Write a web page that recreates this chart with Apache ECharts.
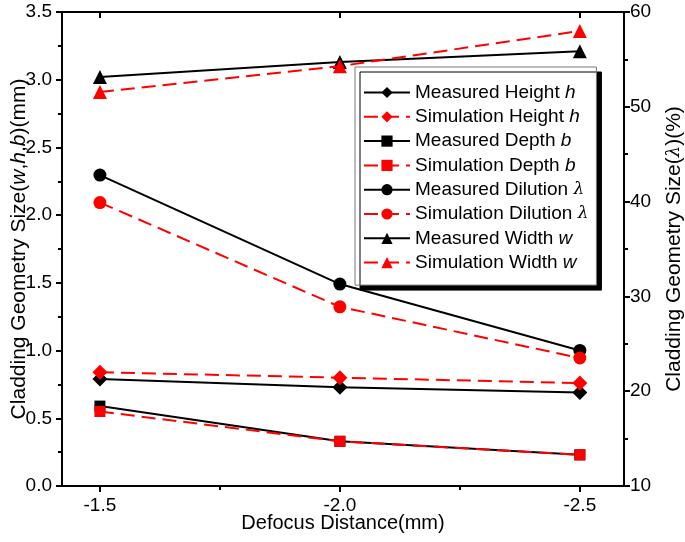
<!DOCTYPE html>
<html><head><meta charset="utf-8">
<script src="https://cdn.jsdelivr.net/npm/echarts@6/dist/echarts.min.js"></script>
<style>html,body{margin:0;padding:0;background:#fff}#c{width:685px;height:542px}</style>
</head><body><div id="c"></div>
<script>
const xVals = [-1.5, -2.0, -2.5];
const xTickLabels = ['-1.5', '-2.0', '-2.5'];
const measuredHeight = [0.79, 0.73, 0.69];
const simulationHeight = [0.84, 0.80, 0.76];
const measuredDepth = [0.59, 0.33, 0.23];
const simulationDepth = [0.55, 0.33, 0.23];
const measuredDilution = [42.8, 31.3, 24.3];
const simulationDilution = [39.9, 28.9, 23.5];
const measuredWidth = [3.02, 3.13, 3.21];
const simulationWidth = [2.91, 3.10, 3.36];
const leftTicks = [0, 3.5, 0.5];
const rightTicks = [10, 60, 10];

const FONT = 'Liberation Sans';
const pairs = arr => xVals.map((x, i) => [x, arr[i]]);
const solid = { color: '#000', width: 2, type: 'solid' };
const dashed = { color: '#ff0000', width: 2, type: [14, 7] };
function mk(name, data, sym, size, meas, yIdx) {
  return {
    name, type: 'line', data: pairs(data), yAxisIndex: yIdx, xAxisIndex: 0,
    symbol: sym, symbolSize: size, showSymbol: true,
    itemStyle: { color: meas ? '#000' : '#ff0000' },
    lineStyle: meas ? solid : dashed, z: meas ? 3 : 4, animation: false
  };
}
const series = [
  mk('Measured Height h', measuredHeight, 'diamond', 15, true, 0),
  mk('Simulation Height h', simulationHeight, 'diamond', 15, false, 0),
  mk('Measured Depth b', measuredDepth, 'rect', 11, true, 0),
  mk('Simulation Depth b', simulationDepth, 'rect', 11, false, 0),
  mk('Measured Dilution λ', measuredDilution, 'circle', 13, true, 1),
  mk('Simulation Dilution λ', simulationDilution, 'circle', 13, false, 1),
  mk('Measured Width w', measuredWidth, 'triangle', 14, true, 0),
  mk('Simulation Width w', simulationWidth, 'triangle', 14, false, 0)
];
const labelStyle = { fontFamily: FONT, fontSize: 19, color: '#000' };
const chart = echarts.init(document.getElementById('c'), null, { renderer: 'canvas' });
chart.setOption({
  animation: false,
  backgroundColor: '#fff',
  grid: { left: 62, right: 61, top: 12, bottom: 56, containLabel: false, outerBoundsMode: 'none' },
  xAxis: [
    { type: 'value', inverse: true, min: -2.592, max: -1.421,
      name: 'Defocus Distance(mm)', nameLocation: 'middle', nameGap: 27, nameMoveOverlap: false,
      nameTextStyle: { fontFamily: FONT, fontSize: 20, color: '#000' },
      axisLine: { onZero: false, lineStyle: { color: '#000', width: 2 } },
      axisTick: { customValues: xVals, length: 6, lineStyle: { color: '#000', width: 2 } },
      axisLabel: { customValues: xVals, formatter: v => xTickLabels[xVals.indexOf(v)] ?? v.toFixed(1), margin: 10, ...labelStyle },
      splitLine: { show: false } },
    { type: 'value', inverse: true, min: -2.592, max: -1.421, position: 'top',
      axisLine: { onZero: false, lineStyle: { color: '#000', width: 2 } },
      axisTick: { customValues: xVals, inside: true, length: 6, lineStyle: { color: '#000', width: 2 } },
      axisLabel: { show: false }, splitLine: { show: false } },
    { type: 'value', inverse: true, min: -2.592, max: -1.421, position: 'bottom',
      axisLine: { show: false },
      axisTick: { customValues: [-1.75, -2.25], length: 4, lineStyle: { color: '#000', width: 2 } },
      axisLabel: { show: false }, splitLine: { show: false } }
  ],
  yAxis: [
    { type: 'value', min: leftTicks[0], max: leftTicks[1], interval: leftTicks[2], position: 'left',
      name: '{n|Cladding Geometry Size(}{i|w}{n|,}{i|h}{n|,}{i|b}{n|)(mm)}',
      nameLocation: 'middle', nameGap: 32, nameRotate: 90, nameMoveOverlap: false,
      nameTextStyle: { rich: { n: { fontFamily: FONT, fontSize: 21, color: '#000' }, i: { fontFamily: FONT, fontSize: 21, fontStyle: 'italic', color: '#000' } } },
      axisLine: { lineStyle: { color: '#000', width: 2 } },
      axisTick: { length: 6, lineStyle: { color: '#000', width: 2 } },
      minorTick: { show: true, splitNumber: 2, length: 4, lineStyle: { color: '#000', width: 2 } },
      axisLabel: { formatter: v => v.toFixed(1), margin: 10, ...labelStyle },
      splitLine: { show: false } },
    { type: 'value', min: rightTicks[0], max: rightTicks[1], interval: rightTicks[2], position: 'right',
      name: '{n|Cladding Geometry Size(}{l|λ}{n|)(%)}',
      nameLocation: 'middle', nameGap: 40, nameRotate: 90, nameMoveOverlap: false,
      nameTextStyle: { rich: { n: { fontFamily: FONT, fontSize: 21, color: '#000' }, l: { fontFamily: 'DejaVu Serif', fontSize: 18, fontStyle: 'italic', color: '#000' } } },
      axisLine: { lineStyle: { color: '#000', width: 2 } },
      axisTick: { length: 6, lineStyle: { color: '#000', width: 2 } },
      minorTick: { show: true, splitNumber: 2, length: 4, lineStyle: { color: '#000', width: 2 } },
      axisLabel: { margin: 6, ...labelStyle },
      splitLine: { show: false } }
  ],
  legend: {
    left: 355, top: 67, orient: 'vertical', itemGap: 5.3, itemWidth: 46, itemHeight: 14,
    padding: [16, 8, 13, 8],
    backgroundColor: '#fff', borderColor: '#777', borderWidth: 1,
    shadowColor: '#000', shadowBlur: 0, shadowOffsetX: 5, shadowOffsetY: 5,
    data: series.map(s => s.name),
    formatter: name => {
      const parts = name.split(' ');
      const v = parts.pop();
      return '{n|' + parts.join(' ') + ' }' + (v === 'λ' ? '{l|λ}' : '{i|' + v + '}');
    },
    textStyle: { fontFamily: FONT, fontSize: 19, lineHeight: 19, color: '#000', rich: {
      n: { fontFamily: FONT, fontSize: 19, lineHeight: 19, color: '#000' },
      i: { fontFamily: FONT, fontSize: 19, lineHeight: 19, fontStyle: 'italic', color: '#000' },
      l: { fontFamily: 'DejaVu Serif', fontSize: 17, lineHeight: 19, fontStyle: 'italic', color: '#000' } } }
  },
  series
});
</script></body></html>
